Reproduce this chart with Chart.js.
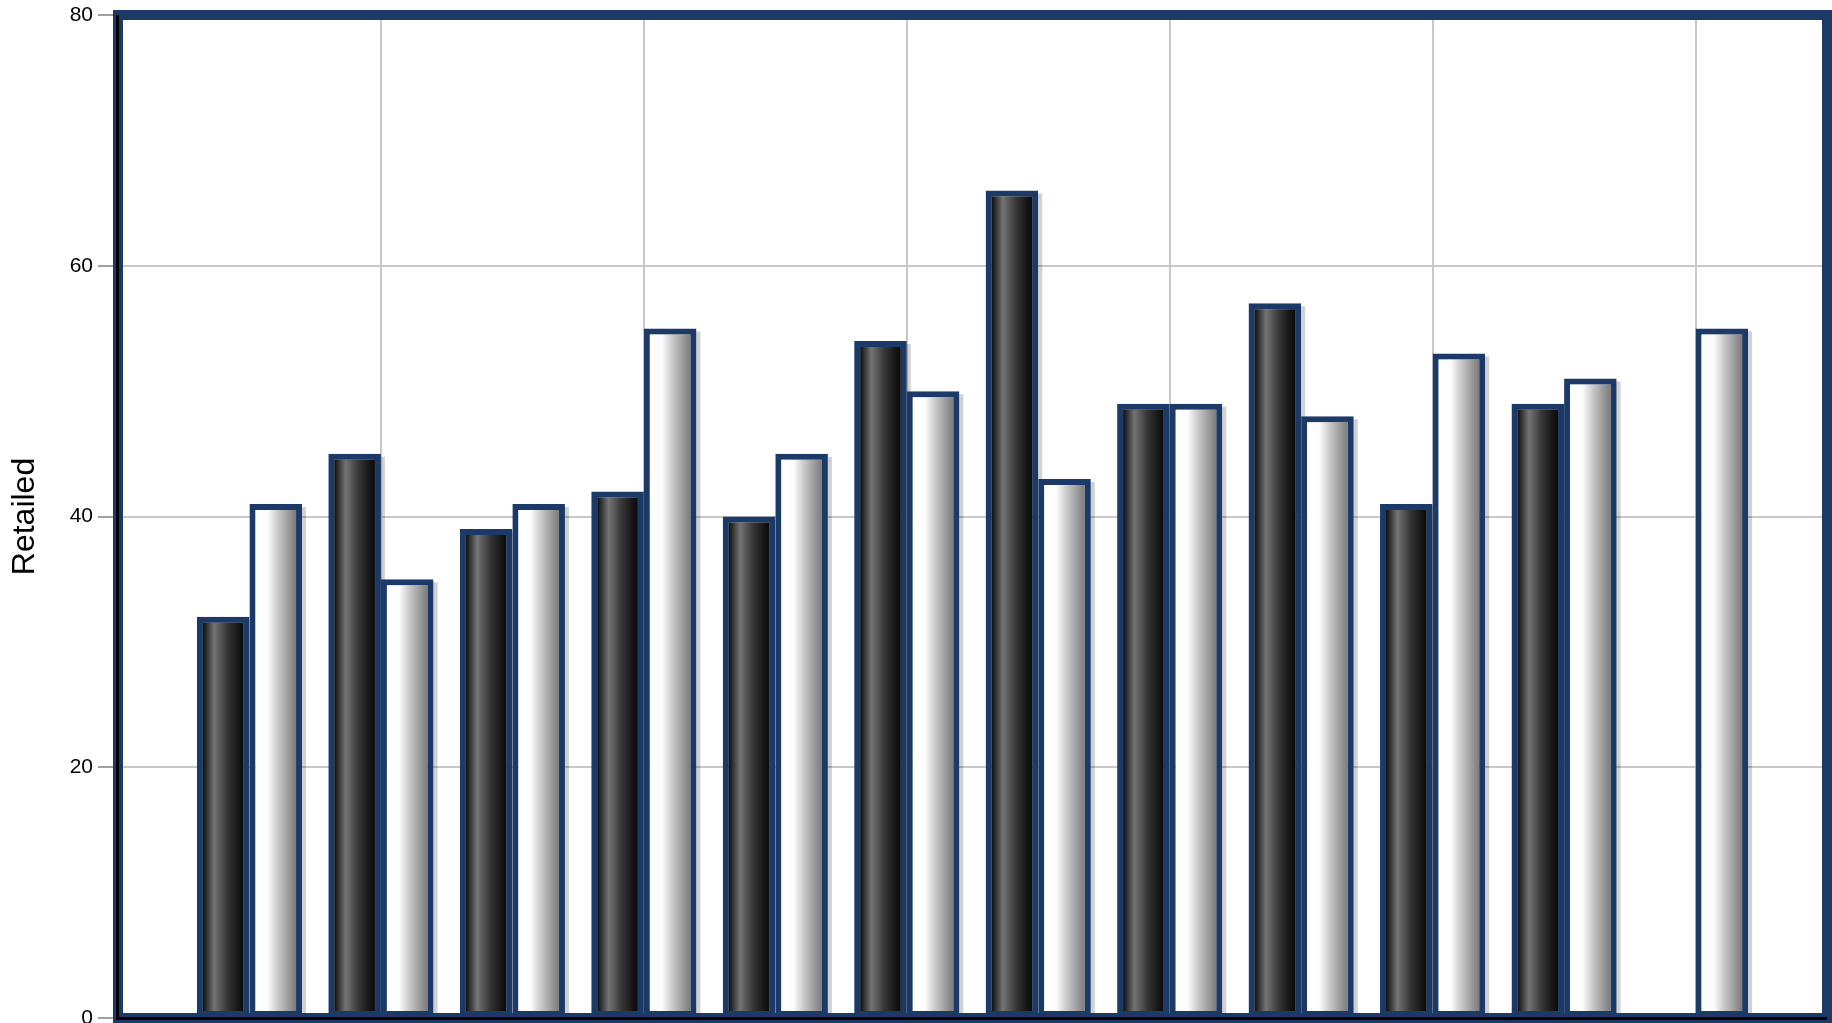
<!DOCTYPE html>
<html>
<head>
<meta charset="utf-8">
<script src="https://cdn.jsdelivr.net/npm/chart.js@4.4.0/dist/chart.umd.min.js"></script>
<style>
  html, body { margin: 0; padding: 0; background: #fff; }
  #wrap { width: 1832px; height: 1023px; position: relative; }
</style>
</head>
<body>
<div id="wrap"><canvas id="retailChart"></canvas></div>
<script>
// values
const positions = [1, 2, 3, 4, 5, 6, 7, 8, 9, 10, 11, 12];
const darkValues = [32, 45, 39, 42, 40, 54, 66, 49, 57, 41, 49, null];
const lightValues = [41, 35, 41, 55, 45, 50, 43, 49, 48, 53, 51, 55];
const yTicks = [0, 20, 40, 60, 80];

const FRAME_BLUE = "#1b3a68";
const CAT_PCT = 0.8;
const BAR_BORDER = 6;

const darkStops = [[0, "#0d0d0d"], [0.28, "#747474"], [0.6, "#363636"], [0.88, "#151515"], [1, "#0a0a0a"]];
const lightStops = [[0, "#ffffff"], [0.3, "#fcfcfc"], [0.55, "#cacaca"], [0.9, "#8c8c8c"], [1, "#7c7c7c"]];

// horizontal gradient per bar, placed from the x scale
function barFill(c) {
    const stops = c.datasetIndex === 0 ? darkStops : lightStops;
    const xs = c.chart.scales.x;
    if (c.type !== "data" || !xs) return stops[1][1];
    const unit = xs.getPixelForValue(1) - xs.getPixelForValue(0);
    const size = unit * CAT_PCT;
    const slot = size / 2;
    const center = xs.getPixelForValue(positions[c.dataIndex]);
    const left = center - size / 2 + c.datasetIndex * slot + BAR_BORDER;
    const right = left + slot - 2 * BAR_BORDER;
    if (!isFinite(left) || !isFinite(right) || right <= left) return stops[1][1];
    const g = c.chart.ctx.createLinearGradient(left, 0, right, 0);
    stops.forEach(s => g.addColorStop(s[0], s[1]));
    return g;
}

// soft drop shadow to the right of each bar
const barShadow = {
    id: "barShadow",
    beforeDatasetsDraw(chart) {
        const ctx = chart.ctx;
        ctx.save();
        ctx.fillStyle = "rgba(0,0,0,0.18)";
        chart.data.datasets.forEach((ds, i) => {
            chart.getDatasetMeta(i).data.forEach(bar => {
                const p = bar.getProps(["x", "y", "base", "width"], true);
                if (p.y == null || isNaN(p.y)) return;
                ctx.fillRect(p.x - p.width / 2 + 4, p.y + 3, p.width, p.base - p.y);
            });
        });
        ctx.restore();
    }
};

// thick blue frame round the plot, black axis lines on it
const plotFrame = {
    id: "plotFrame",
    afterDatasetsDraw(chart) {
        const { ctx, chartArea: a } = chart;
        ctx.save();
        ctx.strokeStyle = FRAME_BLUE;
        ctx.lineWidth = 10;
        ctx.strokeRect(a.left, a.top, a.right - a.left, a.bottom - a.top);
        ctx.strokeStyle = "#000";
        ctx.lineWidth = 3;
        ctx.beginPath();
        ctx.moveTo(a.left - 0.5, a.top);
        ctx.lineTo(a.left - 0.5, a.bottom + 0.5);
        ctx.lineTo(a.right, a.bottom + 0.5);
        ctx.stroke();
        ctx.restore();
    }
};

const ctx = document.getElementById("retailChart").getContext("2d");
new Chart(ctx, {
    type: "bar",
    data: {
        datasets: [
            {
                label: "Series 1",
                data: positions.map((x, i) => ({ x: x, y: darkValues[i] })),
                backgroundColor: barFill,
                borderColor: FRAME_BLUE,
                borderWidth: BAR_BORDER,
                borderSkipped: false,
                categoryPercentage: CAT_PCT,
                barPercentage: 1.0,
            },
            {
                label: "Series 2",
                data: positions.map((x, i) => ({ x: x, y: lightValues[i] })),
                backgroundColor: barFill,
                borderColor: FRAME_BLUE,
                borderWidth: BAR_BORDER,
                borderSkipped: false,
                categoryPercentage: CAT_PCT,
                barPercentage: 1.0,
            },
        ],
    },
    options: {
        responsive: true,
        maintainAspectRatio: false,
        animation: false,
        layout: { padding: { top: 15, right: 5, left: 0, bottom: 0 } },
        plugins: {
            legend: { display: false },
            tooltip: { enabled: false },
        },
        scales: {
            x: {
                type: "linear",
                min: 0,
                max: 13,
                offset: false,
                ticks: { display: false, stepSize: 2 },
                grid: {
                    offset: false,
                    drawTicks: false,
                    lineWidth: 2,
                    color: (c) => (c.tick && c.tick.value > 0 && c.tick.value < 13 ? "#c8c8c8" : "rgba(0,0,0,0)"),
                },
                border: { display: false },
                afterFit: (scale) => {
                    scale.height = 5;
                    scale.paddingLeft = 0;
                    scale.paddingRight = 0;
                },
            },
            y: {
                min: 0,
                max: 80,
                afterBuildTicks: (scale) => { scale.ticks = yTicks.map(v => ({ value: v })); },
                ticks: {
                    color: "#000",
                    padding: 5,
                    font: { family: "'Liberation Sans', Arial, sans-serif", size: 21 },
                },
                grid: {
                    color: "#c8c8c8",
                    lineWidth: 2,
                    tickLength: 20,
                    tickColor: "#a0a0a0",
                },
                border: { display: false },
                title: {
                    display: true,
                    text: "Retailed",
                    color: "#000",
                    padding: { top: 6, bottom: 0 },
                    font: { family: "'Liberation Sans', Arial, sans-serif", size: 32 },
                },
                afterFit: (scale) => {
                    scale.width = 118;
                    scale.paddingTop = 0;
                    scale.paddingBottom = 0;
                },
            },
        },
    },
    plugins: [barShadow, plotFrame],
});
</script>
</body>
</html>
